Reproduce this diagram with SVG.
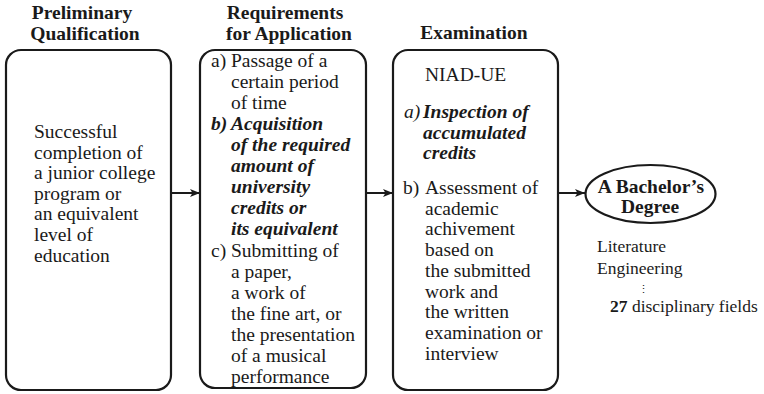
<svg xmlns="http://www.w3.org/2000/svg" width="764" height="394" viewBox="0 0 764 394">
<style>
text{font-family:'Liberation Serif','Times New Roman',serif;fill:#1a1a1a}
.t{font-size:19.5px}
.h{font-size:19.5px;font-weight:bold;text-anchor:middle}
.bi{font-weight:bold;font-style:italic}
.it{font-style:italic}
.s{font-size:17.5px}
.box{fill:#fff;stroke:#1a1a1a;stroke-width:2.2}
.con{stroke:#1a1a1a;stroke-width:2;fill:none;marker-end:url(#ah)}
</style>
<defs>
<marker id="ah" viewBox="0 0 10 8" refX="10" refY="4" markerWidth="10" markerHeight="8" markerUnits="userSpaceOnUse" orient="auto">
<path d="M0,0 L10,4 L0,8 L2.5,4 Z" fill="#1a1a1a"/>
</marker>
</defs>
<rect width="764" height="394" fill="#fff"/>

<g id="titles">
<text class="h" x="82" y="19">Preliminary</text>
<text class="h" x="85" y="40">Qualification</text>
<text class="h" x="285" y="19">Requirements</text>
<text class="h" x="289" y="40">for Application</text>
<text class="h" x="474" y="39">Examination</text>
</g>

<g id="connectors">
<line class="con" x1="171" y1="193" x2="200" y2="193"/>
<line class="con" x1="366" y1="193" x2="393" y2="193"/>
<line class="con" x1="558" y1="193" x2="585" y2="193"/>
</g>

<g id="preliminary">
<rect class="box" x="6" y="50" width="165" height="340" rx="15"/>
<text class="t">
<tspan x="34" y="138">Successful</tspan>
<tspan x="34" y="158.6">completion of</tspan>
<tspan x="34" y="179.2">a junior college</tspan>
<tspan x="34" y="199.8">program or</tspan>
<tspan x="34" y="220.4">an equivalent</tspan>
<tspan x="34" y="241">level of</tspan>
<tspan x="34" y="261.6">education</tspan>
</text>
</g>

<g id="requirements">
<rect class="box" x="200" y="50" width="166" height="338" rx="15"/>
<text class="t">
<tspan x="211" y="67">a)</tspan><tspan x="231" y="67">Passage of a</tspan>
<tspan x="231" y="88">certain period</tspan>
<tspan x="231" y="109">of time</tspan>
<tspan class="bi" x="211" y="130">b)</tspan><tspan class="bi" x="231" y="130">Acquisition</tspan>
<tspan class="bi" x="231" y="151">of the required</tspan>
<tspan class="bi" x="231" y="172">amount of</tspan>
<tspan class="bi" x="231" y="193">university</tspan>
<tspan class="bi" x="231" y="214">credits or</tspan>
<tspan class="bi" x="231" y="235">its equivalent</tspan>
<tspan x="211" y="257">c)</tspan><tspan x="231" y="257">Submitting of</tspan>
<tspan x="231" y="278">a paper,</tspan>
<tspan x="231" y="299">a work of</tspan>
<tspan x="231" y="320">the fine art, or</tspan>
<tspan x="231" y="341">the presentation</tspan>
<tspan x="231" y="362">of a musical</tspan>
<tspan x="231" y="383">performance</tspan>
</text>
</g>

<g id="examination">
<rect class="box" x="393" y="50" width="165" height="340" rx="15"/>
<text class="t">
<tspan x="425" y="81">NIAD-UE</tspan>
<tspan class="it" x="404" y="118">a)</tspan><tspan class="bi" x="423" y="118">Inspection of</tspan>
<tspan class="bi" x="423" y="138.6">accumulated</tspan>
<tspan class="bi" x="423" y="159.2">credits</tspan>
<tspan x="403" y="193.5">b)</tspan><tspan x="425" y="193.5">Assessment of</tspan>
<tspan x="425" y="214.5">academic</tspan>
<tspan x="425" y="235.3">achivement</tspan>
<tspan x="425" y="256">based on</tspan>
<tspan x="425" y="276.8">the submitted</tspan>
<tspan x="425" y="297.6">work and</tspan>
<tspan x="425" y="318.3">the written</tspan>
<tspan x="425" y="339">examination or</tspan>
<tspan x="425" y="359.8">interview</tspan>
</text>
</g>

<g id="degree">
<ellipse class="box" cx="650.5" cy="194" rx="65" ry="29"/>
<text class="h" x="651" y="193">A Bachelor’s</text>
<text class="h" x="650" y="213">Degree</text>
</g>

<g id="fields">
<text class="s" x="597" y="252">Literature</text>
<text class="s" x="597" y="273.5">Engineering</text>
<text x="643" y="293" font-size="11" text-anchor="middle">⋮</text>
<text class="s" x="610" y="312"><tspan font-weight="bold">27</tspan> disciplinary fields</text>
</g>
</svg>
